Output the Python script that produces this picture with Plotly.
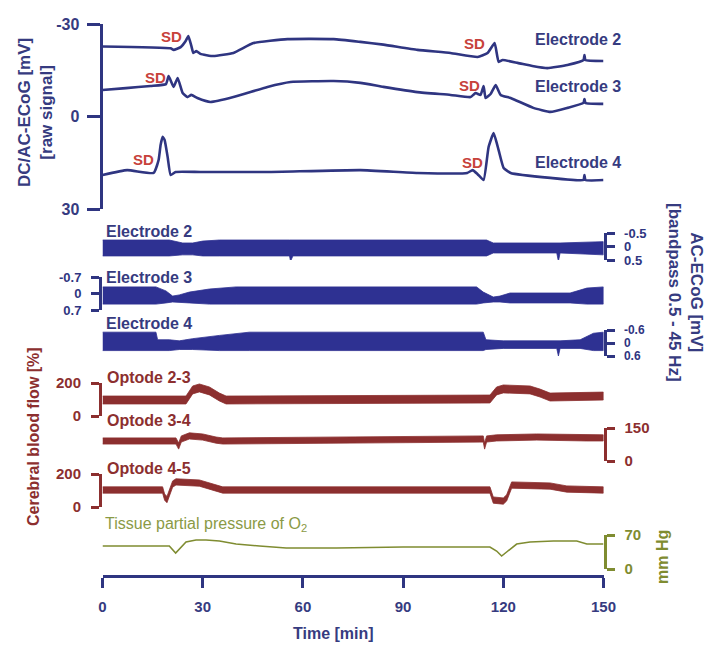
import plotly.graph_objects as go

# ---------------------------------------------------------------- data
# DC/AC-ECoG raw signal (mV), three electrodes, time in minutes
e2_t = [0, 20.4, 21.3, 23.4, 24.9, 25.7, 26.6, 27.2, 28.1, 29.3, 33.2, 39.2, 45.2, 55.4,
        69.2, 77.2, 84.1, 94.3, 104.2, 112.3, 115.3, 117.4, 118.6, 119.8, 124.3, 128.7,
        133.2, 139.2, 144.0, 144.3, 144.6, 150]
e2_v = [-22.7, -22.1, -21.6, -22.5, -24.5, -26.1, -22.9, -20.6, -21.2, -20.3, -19.6, -20.6,
        -23.8, -25.1, -25.1, -24.2, -23.3, -21.6, -20.6, -19.3, -20.6, -23.8, -17.7, -18.3,
        -17.4, -16.4, -15.7, -16.7, -18.3, -19.9, -18.3, -18.0]

e3_t = [0, 7, 14.4, 19, 19.8, 21.3, 22.5, 24, 25.4, 26.6, 28.4, 32.3, 39.2, 49.4, 56.3,
        69.2, 77.2, 84.1, 94.3, 104.2, 110.2, 111.7, 113.2, 114.1, 114.7, 116.2, 117.7,
        119.2, 122.2, 129.0, 134.1, 139.2, 144.0, 144.3, 144.6, 150]
e3_v = [-8.6, -9.2, -9.9, -10.5, -13.1, -9.6, -12.5, -7.6, -6.3, -7.0, -6.0, -4.7, -6.3,
        -9.6, -11.2, -11.5, -10.9, -9.6, -7.9, -7.0, -6.3, -7.6, -7.0, -9.9, -6.0, -7.3,
        -10.2, -7.0, -6.0, -2.8, -1.5, -2.8, -4.4, -5.7, -4.4, -4.1]

e4_t = [0, 7.4, 15.3, 16.8, 17.4, 18.0, 18.6, 19.5, 20.4, 21.9, 29.3, 49.4, 77.2, 94.3,
        109.2, 110.8, 112.3, 114.1, 115.6, 117.1, 118.6, 120.1, 122.2, 134.1, 144.0,
        144.3, 144.6, 150]
e4_v = [19.0, 17.4, 18.3, 14.1, 9.2, 6.6, 7.6, 13.1, 19.0, 18.0, 18.0, 18.0, 17.4, 18.3,
        18.3, 17.4, 18.7, 20.6, 9.9, 5.4, 10.9, 16.7, 18.3, 19.9, 20.6, 19.0, 20.6, 20.6]

# AC-ECoG band-pass 0.5-45 Hz (mV): envelope of the signal
ac2_t = [0, 20, 24, 27, 30, 35, 56, 56.3, 57, 115, 117, 120, 136, 136.5, 137, 150]
ac2_hi = [-0.24, -0.24, -0.13, -0.13, -0.20, -0.24, -0.24, -0.24, -0.24, -0.24, -0.13,
          -0.13, -0.13, -0.13, -0.13, -0.18]
ac2_lo = [0.35, 0.35, 0.31, 0.31, 0.35, 0.35, 0.35, 0.55, 0.35, 0.35, 0.24, 0.24, 0.24,
          0.55, 0.24, 0.31]

ac3_t = [0, 16, 19, 21, 23, 26, 32, 40, 112, 114, 117, 119, 122, 140, 145, 150]
ac3_hi = [-0.28, -0.28, -0.11, 0.11, 0.06, -0.06, -0.19, -0.28, -0.28, -0.06, 0.15,
          0.11, -0.02, -0.02, -0.23, -0.28]
ac3_lo = [0.45, 0.45, 0.40, 0.36, 0.36, 0.40, 0.45, 0.45, 0.45, 0.40, 0.36, 0.36, 0.40,
          0.40, 0.45, 0.45]

ac4_t = [0, 16, 16.5, 20, 23, 27, 35, 44, 114, 114.8, 120, 136, 136.5, 137, 143, 147, 150]
ac4_hi = [-0.50, -0.50, -0.15, -0.15, -0.10, -0.20, -0.35, -0.50, -0.50, -0.15, -0.10,
          -0.10, -0.10, -0.10, -0.15, -0.45, -0.50]
ac4_lo = [0.35, 0.35, 0.35, 0.35, 0.30, 0.30, 0.35, 0.35, 0.35, 0.30, 0.25, 0.25, 0.60,
          0.25, 0.25, 0.35, 0.35]

# Cerebral blood flow (% of baseline): running level and noise half-width
cbf23_t = [0, 25, 27, 29, 32, 35, 37, 116, 118, 120, 128, 131, 134, 150]
cbf23_v = [97, 97, 158, 170, 152, 115, 97, 103, 152, 164, 158, 139, 115, 121]
cbf23_spread = 24

cbf34_t = [0, 22, 22.8, 23.6, 26, 30, 34, 36, 114, 114.4, 115, 118, 130, 145, 150]
cbf34_v = [91, 91, 68, 100, 114, 109, 95, 91, 100, 68, 100, 105, 109, 105, 105]
cbf34_spread = 14

cbf45_t = [0, 18, 18.6, 19.3, 21, 22, 29, 33, 36, 116, 117, 120, 121, 122.5, 134, 139, 150]
cbf45_v = [103, 103, 60, 45, 139, 152, 145, 121, 103, 103, 42, 36, 55, 133, 127, 109, 103]
cbf45_spread = 19

# Tissue partial pressure of O2 (mm Hg)
po2_t = [0, 20, 21.9, 23, 25, 28, 31, 35, 40, 47, 55, 70, 90, 110, 116, 118, 119.5, 121,
         124, 128, 135, 142, 145, 150]
po2_v = [47.3, 47.3, 32.9, 41.2, 55.6, 59.7, 59.7, 57.6, 51.4, 47.3, 43.2, 43.2, 45.3,
         45.3, 45.3, 37.0, 26.7, 35.0, 51.4, 55.6, 57.6, 57.6, 51.4, 51.4]

time_ticks = [0, 30, 60, 90, 120, 150]

# ---------------------------------------------------------------- style
W, H = 706, 654
FONT = "Liberation Sans, Arial, sans-serif"
NAVY = "#2f3581"
NAVY_TXT = "#363b80"
BAND = "#2e3192"
BROWN = "#8c2f2f"
SD_RED = "#c7423b"
OLIVE = "#7f8c31"
OLIVE_TXT = "#8a9a45"


def px(x, y):
    """Pixel position on the page -> paper coordinates."""
    return x / W, 1 - y / H


def ydom(top, bottom):
    return [1 - bottom / H, 1 - top / H]


fig = go.Figure()


def band(t, hi, lo, axis, color):
    fig.add_trace(go.Scatter(
        x=list(t) + list(t)[::-1], y=list(hi) + list(lo)[::-1],
        fill="toself", fillcolor=color, mode="lines",
        line=dict(color=color, width=0.8), yaxis=axis, hoverinfo="skip",
        showlegend=False))


# DC traces
for t, v in ((e2_t, e2_v), (e3_t, e3_v), (e4_t, e4_v)):
    fig.add_trace(go.Scatter(x=t, y=v, mode="lines", yaxis="y",
                             line=dict(color=NAVY, width=2.6, shape="spline", smoothing=0.4),
                             showlegend=False))

# AC bands
band(ac2_t, ac2_hi, ac2_lo, "y2", BAND)
band(ac3_t, ac3_hi, ac3_lo, "y3", BAND)
band(ac4_t, ac4_hi, ac4_lo, "y4", BAND)

# CBF bands
for t, v, s, ax in ((cbf23_t, cbf23_v, cbf23_spread, "y5"),
                    (cbf34_t, cbf34_v, cbf34_spread, "y6"),
                    (cbf45_t, cbf45_v, cbf45_spread, "y7")):
    band(t, [a + s for a in v], [a - s for a in v], ax, BROWN)

# pO2
fig.add_trace(go.Scatter(x=po2_t, y=po2_v, mode="lines", yaxis="y8",
                         line=dict(color=OLIVE, width=1.6), showlegend=False))


def bracket(dom, rng, vals, text, side, color, pos=None, size=13):
    ax = dict(domain=dom, range=rng, showgrid=False, zeroline=False, showline=True,
              linewidth=3, linecolor=color, ticks="outside", ticklen=8, tickwidth=3,
              tickcolor=color, tickvals=vals, ticktext=text, side=side,
              tickfont=dict(family=FONT, size=size, color=color, weight="bold"),
              ticklabelstandoff=7, fixedrange=True, automargin=False)
    if pos is None:
        ax["anchor"] = "x"
    else:
        ax["anchor"] = "free"
        ax["position"] = pos
    return ax


layout = dict(
    width=W, height=H, margin=dict(l=0, r=0, t=0, b=0, pad=0, autoexpand=False),
    paper_bgcolor="white", plot_bgcolor="rgba(0,0,0,0)", showlegend=False,
    xaxis=dict(domain=[102.5 / W, 603.5 / W], range=[0, 150], anchor="free",
               position=1 - 576 / H, showgrid=False, zeroline=False, showline=True,
               linewidth=3, linecolor=NAVY, ticks="outside", ticklen=10, tickwidth=3,
               tickcolor=NAVY, tickvals=time_ticks,
               tickfont=dict(family=FONT, size=15, color=NAVY_TXT, weight="bold"),
               ticklabelstandoff=6, fixedrange=True, automargin=False),
    yaxis=dict(domain=ydom(24, 209), range=[30, -30], anchor="x", showgrid=False,
               zeroline=False, showline=True, linewidth=3, linecolor=NAVY,
               ticks="outside", ticklen=13, tickwidth=3, tickcolor=NAVY,
               tickvals=[-30, 0, 30], ticktext=["-30", "0", "30"],
               tickfont=dict(family=FONT, size=16, color=NAVY_TXT, weight="bold"),
               ticklabelstandoff=4, fixedrange=True, automargin=False),
    yaxis2=bracket(ydom(233, 260), [0.5, -0.5], [-0.5, 0, 0.5], ["-0.5", "0", "0.5"],
                   "right", NAVY),
    yaxis3=bracket(ydom(277, 310), [0.7, -0.7], [-0.7, 0, 0.7], ["-0.7", "0", "0.7"],
                   "left", NAVY, pos=100 / W),
    yaxis4=bracket(ydom(330, 356), [0.6, -0.6], [-0.6, 0, 0.6], ["-0.6", "0", "0.6"],
                   "right", NAVY, size=12),
    yaxis5=bracket(ydom(383, 416), [0, 200], [0, 200], ["0", "200"], "left", BROWN,
                   pos=100 / W, size=15),
    yaxis6=bracket(ydom(428, 461), [0, 150], [0, 150], ["0", "150"], "right", BROWN,
                   size=15),
    yaxis7=bracket(ydom(474, 507), [0, 200], [0, 200], ["0", "200"], "left", BROWN,
                   pos=100 / W, size=15),
    yaxis8=bracket(ydom(535, 569), [0, 70], [0, 70], ["0", "70"], "right", OLIVE,
                   size=15),
)
fig.update_layout(**layout)

ann = []


def note(x, y, text, color, size=16, bold=True, xanchor="left", angle=0, ref="paper",
         align="center"):
    if ref == "paper":
        x, y = px(x, y)
        xr, yr = "paper", "paper"
    else:
        xr, yr = "x", "y"
    ann.append(dict(x=x, y=y, xref=xr, yref=yr, text=f"<b>{text}</b>" if bold else text,
                    showarrow=False, xanchor=xanchor, yanchor="middle", textangle=angle,
                    align=align, font=dict(family=FONT, size=size, color=color)))


# SD markers on the DC traces (placed in data coordinates)
for t, v in ((20.8, -25.8), (15.9, -12.8), (12.4, 13.8),
             (111.5, -23.8), (109.9, -10.2), (110.9, 14.8)):
    note(t, v, "SD", SD_RED, size=15, xanchor="center", ref="data")

# electrode names beside the DC traces
for v, name in ((-25.1, "Electrode 2"), (-9.6, "Electrode 3"), (14.8, "Electrode 4")):
    note(129, v, name, NAVY_TXT, size=16, ref="data")

# channel labels
note(104, 231, "Electrode 2", NAVY_TXT)
note(104, 277, "Electrode 3", NAVY_TXT)
note(104, 323, "Electrode 4", NAVY_TXT)
note(105, 377, "Optode 2-3", BROWN)
note(105, 420, "Optode 3-4", BROWN)
note(105, 468, "Optode 4-5", BROWN)
note(103, 524, "Tissue partial pressure of O<sub>2</sub>", OLIVE_TXT, size=16, bold=False)

# axis titles
note(35, 113, "DC/AC-ECoG [mV]<br>[raw signal]", NAVY_TXT, size=17, xanchor="center",
     angle=-90)
note(686, 292, "AC-ECoG [mV]<br>[bandpass 0.5 - 45 Hz]", NAVY_TXT, size=17,
     xanchor="center", angle=90)
note(33, 437, "Cerebral blood flow [%]", BROWN, size=16, xanchor="center", angle=-90)
note(662, 557, "mm Hg", OLIVE, size=16, xanchor="center", angle=-90)
note(333, 633, "Time [min]", NAVY_TXT, size=16, xanchor="center")

fig.update_layout(annotations=ann)
fig.write_html("out.html")
